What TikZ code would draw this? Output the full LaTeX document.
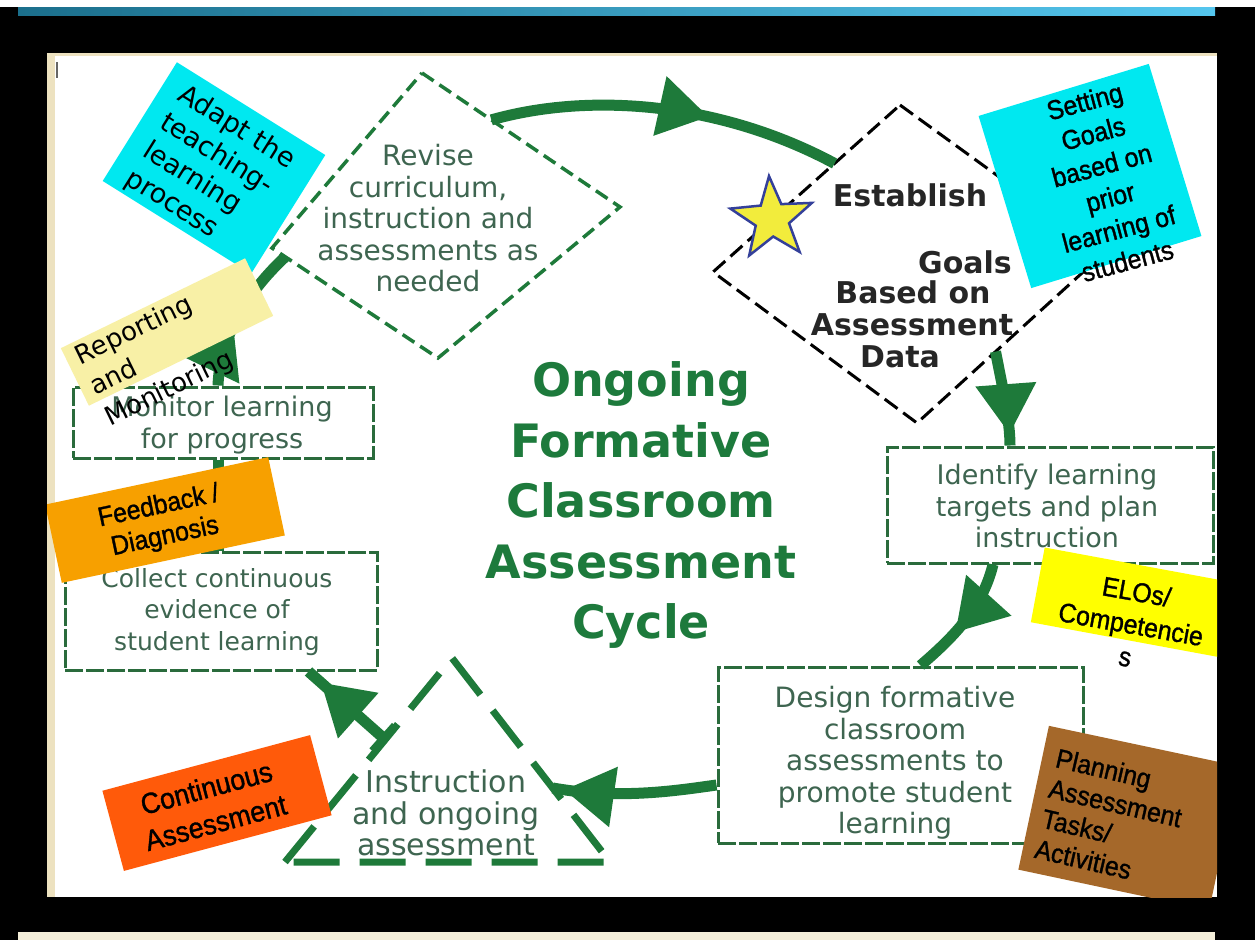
\documentclass[tikz,border=0pt]{standalone}
\usepackage{fontspec}
\setmainfont{DejaVu Sans}
\newfontfamily\notefont[FakeStretch=0.92,FakeBold=1.2]{Liberation Sans}
\usetikzlibrary{arrows.meta,decorations.markings,shapes.geometric,calc}

\definecolor{cyclegreen}{HTML}{1E7A3A}
\definecolor{titlegreen}{HTML}{1D7A3C}
\definecolor{boxgreen}{HTML}{2A6B3C}
\definecolor{textgreen}{HTML}{3E6550}
\definecolor{notecyan}{HTML}{00E8F0}
\definecolor{notepale}{HTML}{F8F0A6}
\definecolor{noteorange}{HTML}{F7A000}
\definecolor{notered}{HTML}{FF5A0A}
\definecolor{noteyellow}{HTML}{FFFF00}
\definecolor{notebrown}{HTML}{A5682A}
\definecolor{starfill}{HTML}{F2EC3C}
\definecolor{starline}{HTML}{34409A}
\definecolor{panelbeige}{HTML}{EDE2C0}
\definecolor{bandleft}{HTML}{1B6F8C}
\definecolor{bandright}{HTML}{55C6EE}

\tikzset{
  stepbox/.style={draw=boxgreen, line width=3pt, dash pattern=on 18pt off 3pt, inner sep=0pt},
  steptext/.style={text=textgreen, align=center, inner sep=0pt, font=\fontsize{#1}{31.5}\selectfont},
  flow/.style={draw=cyclegreen, line width=11pt},
  tipat/.style={postaction={decorate}, decoration={markings,
      mark=at position #1 with {\arrow[cyclegreen]{Triangle[length=50pt,width=58pt]}}}},
  notebox/.style={inner sep=0pt, draw=none},
  notetext/.style={inner sep=0pt, text=black, font=\notefont\fontsize{27}{31}\selectfont},
  revdash/.style={draw=cyclegreen, line width=3.5pt, dash pattern=on 14pt off 7pt},
  estdash/.style={draw=black, line width=3pt, dash pattern=on 16pt off 7pt},
  tridash/.style={draw=cyclegreen, line width=7pt, dash pattern=on 46pt off 20pt},
  esttext/.style={inner sep=0pt, text=black!85, font=\bfseries\fontsize{30}{32}\selectfont},
}

\begin{document}
\begin{tikzpicture}[x=1pt, y=-1pt]
\useasboundingbox (0,0) rectangle (1255,940);

% frame, top band and page panel
\fill[black] (0,0) rectangle (1255,940);
\fill[white] (0,0) rectangle (1255,7);
\shade[left color=bandleft, right color=bandright] (18,7) rectangle (1215,15);
\fill[white] (47,53) rectangle (1217,897);
\fill[panelbeige] (47,53) rectangle (55,897);
\fill[panelbeige] (47,53) rectangle (1217,56);
\fill[panelbeige!60] (18,932) rectangle (1215,940);
\draw[black!60, line width=1.5pt] (57,62) -- (57,78);

% diamonds and triangle
\coordinate (rT) at (422,73);
\coordinate (rR) at (620,207);
\coordinate (rB) at (438,358);
\coordinate (rL) at (272,248);
\draw[revdash] (rT) -- (rR) -- (rB) -- (rL) -- cycle;

\coordinate (eT) at (900,105);
\coordinate (eR) at (1104,253);
\coordinate (eB) at (917,423);
\coordinate (eL) at (713,272);
\draw[estdash] (eT) -- (eR) -- (eB) -- (eL) -- cycle;

\coordinate (tA) at (452,658);
\coordinate (tL) at (285,862);
\coordinate (tR) at (610,862);
\draw[tridash] (tL) -- (tA) -- (tR) -- cycle;

% step boxes
\node[stepbox, minimum width=300pt, minimum height=71pt] (mon) at (223,422.5) {};
\node[stepbox, minimum width=312pt, minimum height=118pt] (col) at (221,611) {};
\node[stepbox, minimum width=326pt, minimum height=116pt] (idn) at (1050,505) {};
\node[stepbox, minimum width=365pt, minimum height=176pt] (des) at (900.5,755) {};

% step texts
\node[steptext=28] (revtxt) at (428,218.5) {Revise\\curriculum,\\instruction and\\assessments as\\needed};
\node[steptext=27] (montxt) at (222,425) {Monitor learning\\for progress};
\node[steptext=25] (coltxt) at (217,612) {Collect continuous\\evidence of\\student learning};
\node[steptext=27] (idntxt) at (1047,506) {Identify learning\\targets and plan\\instruction};
\node[steptext=28] (destxt) at (895,763) {Design formative\\classroom\\assessments to\\promote student\\learning};
\node[steptext=30] (tritxt) at (446,813) {Instruction\\and ongoing\\assessment};

\node[esttext] (est1) at (910,195) {Establish};
\node[esttext] (est2) at (965,262) {Goals};
\node[esttext] (est3) at (913,292) {Based on};
\node[esttext] (est4) at (912,325) {Assessment};
\node[esttext] (est5) at (900,357) {Data};

\node[star, star points=5, star point ratio=2.45, minimum size=86pt, inner sep=0pt,
      fill=starfill, draw=starline, line width=2.5pt, rotate=4] (star) at (772,219) {};

% cycle connectors
\draw[flow, tipat=0.62] ($(rT)!0.35!(rR)$) .. controls (590,92) and (720,102) .. ($(eL)!0.65!(eT)$);
\draw[flow, tipat=0.88] ($(eB)!0.42!(eR)$) .. controls (1002,385) and (1010,420) .. ([xshift=-40pt]idn.north);
\draw[flow, tipat=0.62] ([xshift=-57pt]idn.south) .. controls (982,610) and (950,640) .. ([xshift=20pt]des.north);
\draw[flow, tipat=0.93] ([yshift=-30pt]des.west) .. controls (680,790) and (620,800) .. ($(tA)!0.637!(tR)$);
\draw[flow, tipat=0.84, {Bar[width=34pt,line width=6pt]}-] ($(tA)!0.4!(tL)$) -- ([xshift=-70pt]col.south east);
\draw[flow] ([xshift=-3pt]col.north) -- ([xshift=-5pt]mon.south);
\draw[flow, tipat=0.42] ([xshift=-5pt]mon.north) .. controls (220,330) and (255,285) .. ($(rL)!0.08!(rB)$);

% title
\node[inner sep=0pt, align=center, text=titlegreen, font=\bfseries\fontsize{46}{60.5}\selectfont]
  (title) at (641,505) {Ongoing\\Formative\\Classroom\\Assessment\\Cycle};

% sticky notes
\begin{scope}
\clip (47,53) rectangle (1217,897);
\node[notebox, fill=notecyan, minimum width=175pt, minimum height=140pt, rotate=-32] (adaptbox) at (214,168) {};
\node[notetext, align=left, font=\rmfamily\fontsize{27}{33}\selectfont, rotate=-32] (adapt) at (210,170) {Adapt the\\teaching-\\learning\\process};

\node[notebox, fill=notepale, minimum width=205pt, minimum height=64pt, rotate=26] (repbox) at (167,332) {};
\node[notetext, align=left, font=\rmfamily\fontsize{26}{34}\selectfont, rotate=26] (rep) at (155,359) {Reporting\\and\\Monitoring};

\node[notebox, fill=noteorange, minimum width=228pt, minimum height=80pt, rotate=12] (fbbox) at (165,520) {};
\node[notetext, align=center, rotate=12] (fb) at (162,522) {Feedback /\\Diagnosis};

\node[notebox, fill=notered, minimum width=215pt, minimum height=83pt, rotate=15] (cabox) at (217,803) {};
\node[notetext, align=center, font=\notefont\fontsize{29}{36}\selectfont, rotate=15] (ca) at (211,805) {Continuous\\Assessment};

\node[notebox, fill=notecyan, minimum width=178pt, minimum height=180pt, rotate=17] (sgbox) at (1090,176) {};
\node[notetext, align=center, font=\notefont\fontsize{27}{33}\selectfont, rotate=15] (sg) at (1106,181) {Setting\\Goals\\based on\\prior\\learning of\\students};

\node[notebox, fill=noteyellow, minimum width=210pt, minimum height=76pt, rotate=-10.5] (elobox) at (1141,604) {};
\node[notetext, align=center, font=\notefont\fontsize{27}{33}\selectfont, rotate=-10] (elo) at (1131,624) {ELOs/\\Competencie\\s};

\node[notebox, fill=notebrown, minimum width=195pt, minimum height=147pt, rotate=-12] (patbox) at (1129,818) {};
\node[notetext, align=left, font=\notefont\fontsize{27}{31}\selectfont, rotate=-13] (pat) at (1112,818) {Planning\\Assessment\\Tasks/\\Activities};
\end{scope}
\end{tikzpicture}
\end{document}
